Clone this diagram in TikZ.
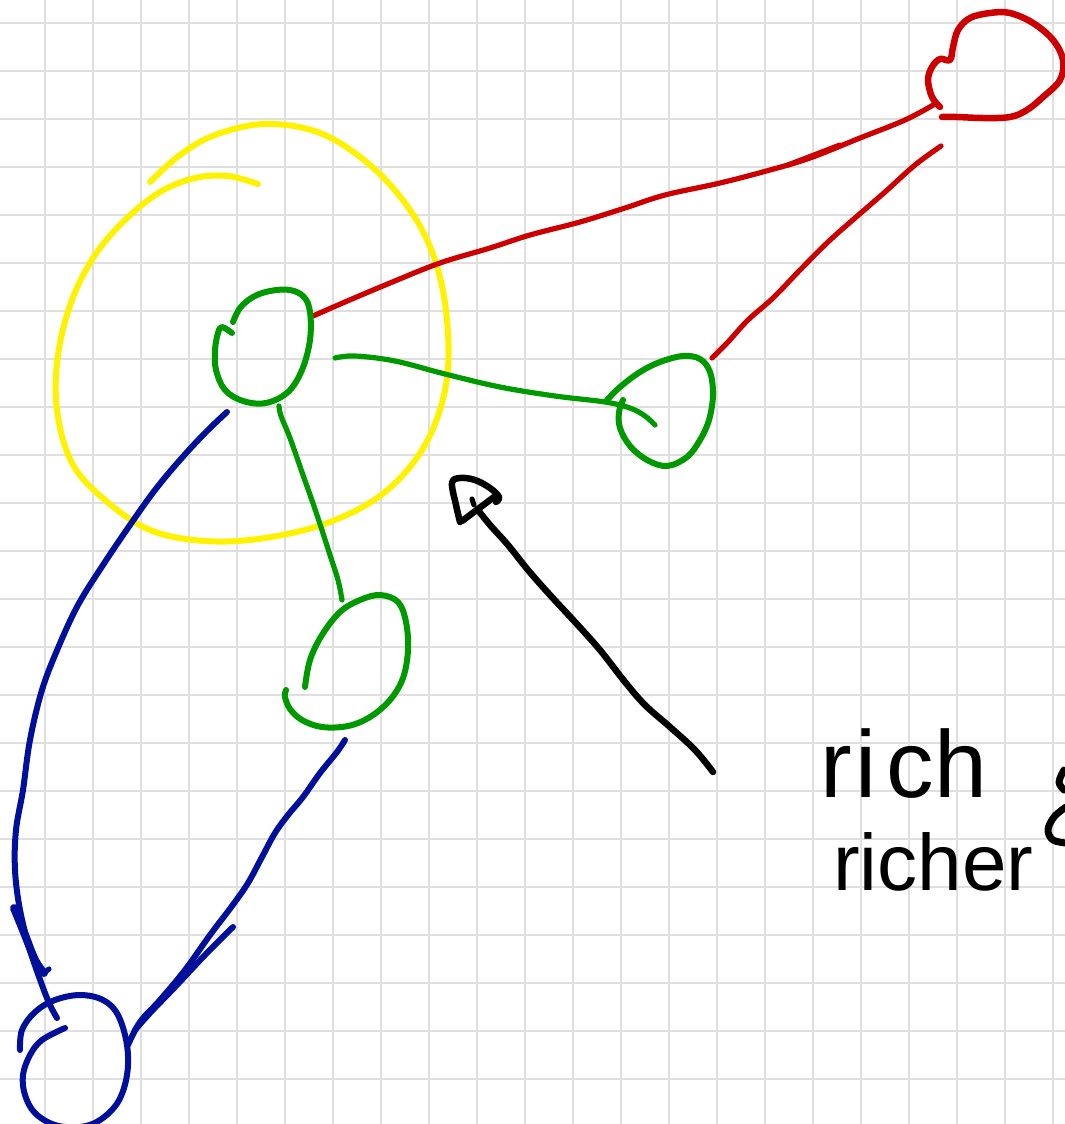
\documentclass[tikz,border=0pt]{standalone}
\usepackage{fontspec}
\setmainfont{Liberation Sans}
\definecolor{gridgray}{HTML}{DFDFDF}
\definecolor{hlyellow}{HTML}{FFF200}
\definecolor{inkred}{HTML}{CC0000}
\definecolor{inkgreen}{HTML}{009900}
\definecolor{inkblue}{HTML}{00109A}
\begin{document}
\begin{tikzpicture}[x=1pt,y=-1pt,line cap=round,line join=round,
  gridline/.style={draw=gridgray,line width=2pt},
  ink/.style={line width=6pt},
  thinink/.style={line width=5.2pt},
  thickink/.style={line width=8pt},
  handtext/.style={anchor=base west,inner sep=0pt,text=black}]
% sheet and squared paper
\useasboundingbox (0,0) rectangle (1065,1124);
\clip (0,0) rectangle (1065,1124);
\fill[white] (0,0) rectangle (1065,1124);
\foreach \gx in {45,93,...,1053} \draw[gridline] (\gx,0) -- (\gx,1124);
\foreach \gy in {23,71,...,1079} \draw[gridline] (0,\gy) -- (1065,\gy);

% connector end points
\coordinate (aE) at (313,316);
\coordinate (aR) at (335,358);
\coordinate (aB) at (279,406);
\coordinate (aL) at (227,412);
\coordinate (bL) at (655,425);
\coordinate (bT) at (712,358);
\coordinate (cT) at (342,600);
\coordinate (cB) at (345,740);
\coordinate (dT) at (57,1018);
\coordinate (dR) at (128,1045);
\coordinate (eW) at (935,104);
\coordinate (eS) at (941,146);
\coordinate (tip) at (478,510);
\coordinate (tail) at (713,772);

% yellow highlight loop
\draw[ink,hlyellow] plot[smooth,tension=0.6] coordinates {(150,182) (180,155) (215,135) (265,124) (320,133) (370,165) (410,210) (435,260) (447,320) (446,385) (425,445) (385,492) (330,522) (265,538) (205,541) (150,530) (105,500) (72,463) (57,410) (58,355) (72,300) (95,255) (125,220) (160,192) (195,178) (228,176) (258,184)};

% red loop and its two links
\draw[ink,line width=6.5pt,inkred] plot[smooth,tension=0.6] coordinates {(940,107) (932,97) (928,80) (932,67) (940,59) (950,60) (953,47) (958,30) (970,18) (990,13) (1010,13) (1033,23) (1053,40) (1063,60) (1060,80) (1043,97) (1027,110) (1010,117) (983,118) (957,117) (942,117)};
\draw[thinink,inkred] plot[smooth,tension=0.6] coordinates {(aE) (345,302) (390,283) (440,263) (490,248) (530,235) (580,222) (625,208) (665,195) (720,183) (770,170) (810,158) (860,138) (905,120) (eW)};
\draw[thinink,inkred] (788,165) -- (840,145);
\draw[thinink,inkred] plot[smooth,tension=0.6] coordinates {(eS) (915,165) (885,192) (855,218) (828,242) (800,270) (773,298) (748,320) (728,342) (bT)};

% green loops
\draw[ink,inkgreen] plot[smooth,tension=0.6] coordinates {(233,322) (240,308) (253,297) (270,291) (290,290) (304,297) (310,312) (310,340) (302,370) (288,392) (266,403) (243,401) (225,390) (216,370) (215,350) (218,333) (222,327) (232,333)};
\draw[ink,inkgreen] plot[smooth,tension=0.6] coordinates {(607,400) (620,387) (640,372) (660,362) (683,356) (700,359) (710,372) (713,395) (709,420) (700,440) (687,457) (667,466) (647,460) (630,446) (620,428) (619,412) (623,400)};
\draw[ink,inkgreen] plot[smooth,tension=0.6] coordinates {(305,687) (310,660) (322,635) (340,612) (360,600) (380,595) (398,602) (406,622) (408,650) (403,678) (390,700) (370,717) (348,726) (322,727) (302,720) (290,709) (285,697) (286,690)};

% green links
\draw[thinink,inkgreen] plot[smooth,tension=0.6] coordinates {(aR) (355,356) (395,361) (445,374) (500,387) (555,396) (605,402) (630,408) (645,416) (bL)};
\draw[thinink,inkgreen] plot[smooth,tension=0.6] coordinates {(aB) (281,416) (290,438) (303,475) (316,512) (330,555) (338,580) (cT)};

% blue loop
\draw[ink,inkblue] plot[smooth,tension=0.6] coordinates {(20,1050) (22,1030) (35,1012) (55,1000) (80,995) (103,1000) (118,1015) (127,1045) (127,1075) (118,1102) (100,1120) (80,1127) (55,1125) (35,1113) (25,1095) (23,1075) (30,1055) (42,1040) (65,1028)};

% blue links
\draw[ink,inkblue] plot[smooth,tension=0.6] coordinates {(aL) (205,433) (180,460) (155,490) (130,525) (103,565) (78,605) (58,648) (42,690) (30,740) (23,790) (16,830) (15,870) (20,910) (30,950) (42,985) (50,1005) (dT)};
\draw[thickink,inkblue] plot[smooth,tension=0.6] coordinates {(14,908) (25,935) (35,960) (44,973)};
\draw[thinink,inkblue] (44,973) -- (49,969);
\draw[ink,inkblue] plot[smooth,tension=0.6] coordinates {(cB) (337,752) (320,773) (303,797) (288,815) (275,833) (262,857) (248,883) (232,906) (210,935) (185,970) (160,1000) (140,1022) (dR)};
\draw[ink,inkblue] plot[smooth,tension=0.6] coordinates {(233,927) (205,955) (175,987) (150,1013) (135,1030)};

% black arrow
\draw[ink,line width=6.5pt,black] plot[smooth,tension=0.6] coordinates {(tail) (695,750) (670,727) (645,705) (625,682) (600,650) (575,622) (550,595) (528,570) (508,545) (490,525) (tip)};
\draw[ink,line width=6.5pt,black] plot[smooth,tension=0.6] coordinates {(460,522) (456,505) (452,483) (460,478) (475,480) (490,488) (499,497) (496,502)};
\draw[ink,line width=6.5pt,black] (494,497) -- (462,521);
\draw[thinink,black] (472,499) -- (474,505);

% handwritten notes
\node[handtext,font=\fontsize{95}{95}\selectfont] (rich) at (820,797) {r\kern4pt i\kern10pt ch};
\node[handtext,font=\fontsize{80}{80}\selectfont] (richer) at (833,890) {richer};
\draw[ink,line width=7pt,black] plot[smooth,tension=0.6] coordinates {(1064,770) (1059,782) (1064,790)};
\draw[ink,line width=7pt,black] plot[smooth,tension=0.6] coordinates {(1066,807) (1054,817) (1048,830) (1053,840) (1066,843)};
\end{tikzpicture}
\end{document}
